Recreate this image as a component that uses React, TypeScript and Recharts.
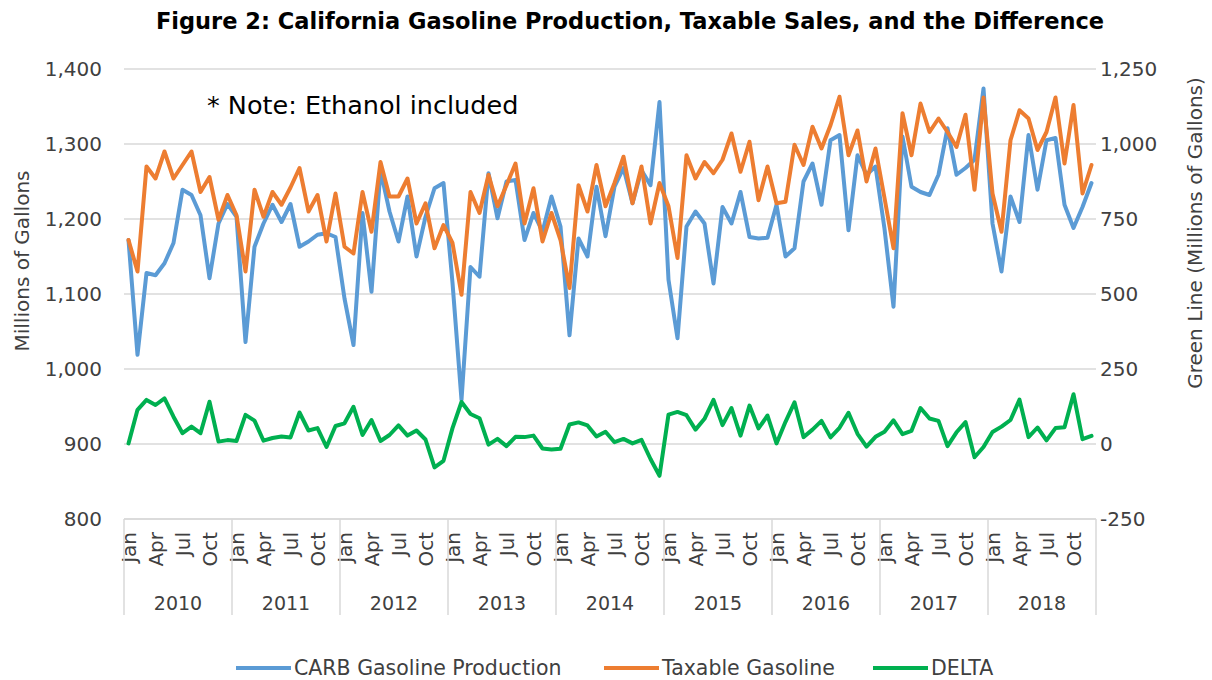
import React from 'react';
import { LineChart, Line, XAxis, YAxis, CartesianGrid, Legend, Label } from 'recharts';

const years = [2010, 2011, 2012, 2013, 2014, 2015, 2016, 2017, 2018];
const months = ['Jan', 'Feb', 'Mar', 'Apr', 'May', 'Jun', 'Jul', 'Aug', 'Sep', 'Oct', 'Nov', 'Dec'];
const monthTickLabels = ['Jan', 'Apr', 'Jul', 'Oct'];

const leftTicks = [800, 900, 1000, 1100, 1200, 1300, 1400];
const rightTicks = [-250, 0, 250, 500, 750, 1000, 1250];

const seriesNames = ['CARB Gasoline Production', 'Taxable Gasoline', 'DELTA'];
const seriesColors = ['#5B9BD5', '#ED7D31', '#00B050'];
const legendLeft = [236, 604, 873];

const carbProduction = [
  1172, 1019, 1128, 1125, 1141, 1168, 1239, 1232, 1205, 1121, 1194, 1220,
  1203, 1036, 1163, 1194, 1219, 1196, 1220, 1163, 1170, 1179, 1181, 1176,
  1094, 1032, 1208, 1103, 1265, 1210, 1170, 1230, 1150, 1203, 1241, 1248,
  1115, 959, 1136, 1123, 1261, 1201, 1250, 1252, 1172, 1208, 1183, 1230,
  1190, 1045, 1174, 1150, 1243, 1177, 1243, 1268, 1221, 1265, 1245, 1356,
  1119, 1041, 1190, 1210, 1194, 1114, 1216, 1194, 1236, 1176, 1174, 1175,
  1219, 1150, 1161, 1250, 1274, 1219, 1305, 1312, 1185, 1285, 1259, 1270,
  1187, 1083, 1310, 1243, 1236, 1232, 1259, 1321, 1259, 1268, 1279, 1374,
  1194, 1130, 1230, 1196, 1312, 1239, 1305, 1308, 1219, 1188, 1216, 1248,
];

const taxableGasoline = [
  1172, 1130, 1270, 1254, 1290, 1254, 1272, 1290, 1236, 1256, 1199, 1232,
  1205, 1130, 1239, 1203, 1236, 1219, 1242, 1268, 1210, 1232, 1170, 1234,
  1163, 1154, 1236, 1183, 1276, 1230, 1230, 1254, 1194, 1221, 1161, 1192,
  1168, 1099, 1236, 1208, 1259, 1217, 1245, 1274, 1194, 1241, 1170, 1208,
  1172, 1108, 1245, 1210, 1272, 1217, 1248, 1283, 1221, 1270, 1194, 1248,
  1217, 1148, 1285, 1254, 1276, 1261, 1279, 1314, 1263, 1303, 1225, 1270,
  1221, 1223, 1299, 1272, 1323, 1294, 1325, 1363, 1285, 1318, 1250, 1294,
  1228, 1161, 1341, 1285, 1354, 1316, 1334, 1316, 1296, 1339, 1239, 1362,
  1234, 1183, 1305, 1345, 1334, 1292, 1316, 1362, 1274, 1352, 1234, 1272,
];

const deltaValues = [
  2, 114, 147, 130, 152, 91, 36, 58, 36, 141, 8, 13,
  10, 97, 78, 11, 20, 25, 22, 105, 45, 53, -10, 60,
  69, 124, 30, 80, 10, 30, 62, 28, 45, 15, -78, -56,
  53, 140, 100, 86, -2, 17, -7, 24, 23, 28, -15, -18,
  -16, 65, 72, 62, 25, 41, 6, 17, 2, 14, -50, -106,
  98, 107, 96, 48, 84, 147, 63, 120, 28, 128, 52, 95,
  2, 74, 139, 23, 48, 77, 22, 54, 104, 34, -9, 24,
  41, 79, 33, 44, 120, 85, 77, -7, 39, 73, -44, -10,
  40, 58, 80, 148, 23, 55, 12, 53, 56, 166, 16, 27,
];

const data = carbProduction.map((v, i) => ({
  key: `${years[Math.floor(i / 12)]}-${months[i % 12]}`,
  month: months[i % 12],
  year: years[Math.floor(i / 12)],
  carb: v,
  taxable: taxableGasoline[i],
  delta: deltaValues[i],
}));

const FONT = "'DejaVu Sans', sans-serif";
const TEXT = '#404040';
const GRID = '#d9d9d9';
const W = 1212;
const H = 680;
const LEFT_W = 124;
const RIGHT_W = 116;
const PLOT_W = W - LEFT_W - RIGHT_W;
const HALF = PLOT_W / data.length / 2;
const LINE_W = 4;

const fmt = (v: number) => v.toLocaleString('en-US');

const MonthTick = (props: any) => {
  const { x, y, index } = props;
  const item = data[index];
  if (!item) return null;
  const m = index % 12;
  const out: any[] = [];
  if (monthTickLabels.includes(item.month)) {
    const bx = x + 7;
    const by = y + 13;
    out.push(
      <text key="m" x={bx} y={by} transform={`rotate(-90, ${bx}, ${by})`} textAnchor="end"
        fontSize={20} fontFamily={FONT} fill={TEXT}>{item.month}</text>
    );
  }
  if (m === 0) {
    out.push(<line key="d" x1={x - HALF} x2={x - HALF} y1={y} y2={y + 96} stroke={GRID} strokeWidth={1.5} />);
  }
  if (index === data.length - 1) {
    out.push(<line key="e" x1={x + HALF} x2={x + HALF} y1={y} y2={y + 96} stroke={GRID} strokeWidth={1.5} />);
  }
  if (m === 6) {
    out.push(
      <text key="y" x={x - HALF} y={y + 91} textAnchor="middle" fontSize={19} fontFamily={FONT} fill={TEXT}>{item.year}</text>
    );
  }
  return <g>{out}</g>;
};

const renderLegend = () => (
  <div style={{ position: 'relative', height: 26, fontFamily: FONT, fontSize: 20.5, color: TEXT }}>
    {seriesNames.map((name, i) => (
      <div key={name} style={{ position: 'absolute', left: legendLeft[i], top: 0, height: 26, display: 'flex', alignItems: 'center' }}>
        <svg width={55} height={8}><line x1={0} x2={55} y1={4} y2={4} stroke={seriesColors[i]} strokeWidth={4} /></svg>
        <span style={{ marginLeft: 3, whiteSpace: 'nowrap' }}>{name}</span>
      </div>
    ))}
  </div>
);

const LeftTitle = (props: any) => {
  const vb = props.viewBox || { x: 0 };
  const cx = vb.x + 22;
  const cy = 261;
  return (
    <text x={cx} y={cy} transform={`rotate(-90, ${cx}, ${cy})`} textAnchor="middle" dominantBaseline="central"
      fontSize={20} fontFamily={FONT} fill={TEXT}>Millions of Gallons</text>
  );
};

const RightTitle = (props: any) => {
  const vb = props.viewBox || { x: W - RIGHT_W };
  const cx = vb.x + 99;
  const cy = 233;
  return (
    <text x={cx} y={cy} transform={`rotate(-90, ${cx}, ${cy})`} textAnchor="middle" dominantBaseline="central"
      fontSize={20} fontFamily={FONT} fill={TEXT}>Green Line (Millions of Gallons)</text>
  );
};

export default function App() {
  return (
    <div style={{ position: 'absolute', left: 0, top: 0, width: W, height: H, background: '#fff', fontFamily: FONT }}>
      <div style={{ position: 'absolute', left: 30, top: 7, width: 1200, textAlign: 'center', fontSize: 22.5, fontWeight: 'bold', color: '#000', lineHeight: '28px', fontFamily: FONT }}>
        Figure 2: California Gasoline Production, Taxable Sales, and the Difference
      </div>
      <LineChart width={W} height={H} data={data} margin={{ top: 69, right: 0, bottom: 0, left: 0 }}>
        <CartesianGrid yAxisId="left" vertical={false} stroke={GRID} strokeWidth={1.5} />
        <XAxis dataKey="key" interval={0} height={161} tickSize={0} tickMargin={0} tickLine={false}
          axisLine={{ stroke: GRID, strokeWidth: 1.5 }} padding={{ left: HALF, right: HALF }} tick={<MonthTick />} />
        <YAxis yAxisId="left" orientation="left" width={LEFT_W} domain={[800, 1400]} ticks={leftTicks}
          tickFormatter={fmt} axisLine={false} tickLine={false} tickSize={0} tickMargin={22}
          tick={{ fontSize: 20, fontFamily: FONT, fill: TEXT }} allowDataOverflow>
          <Label content={<LeftTitle />} />
        </YAxis>
        <YAxis yAxisId="right" orientation="right" width={RIGHT_W} domain={[-250, 1250]} ticks={rightTicks}
          tickFormatter={fmt} axisLine={false} tickLine={false} tickSize={0} tickMargin={4}
          tick={{ fontSize: 20, fontFamily: FONT, fill: TEXT }} allowDataOverflow>
          <Label content={<RightTitle />} />
        </YAxis>
        <Legend verticalAlign="middle" align="center" layout="horizontal"
          wrapperStyle={{ top: 655, left: 0, width: W, height: 26 }} content={renderLegend} />
        <Line yAxisId="left" type="linear" dataKey="carb" name={seriesNames[0]} stroke={seriesColors[0]}
          strokeWidth={LINE_W} dot={false} isAnimationActive={false} strokeLinejoin="round" strokeLinecap="round" />
        <Line yAxisId="left" type="linear" dataKey="taxable" name={seriesNames[1]} stroke={seriesColors[1]}
          strokeWidth={LINE_W} dot={false} isAnimationActive={false} strokeLinejoin="round" strokeLinecap="round" />
        <Line yAxisId="right" type="linear" dataKey="delta" name={seriesNames[2]} stroke={seriesColors[2]}
          strokeWidth={LINE_W} dot={false} isAnimationActive={false} strokeLinejoin="round" strokeLinecap="round" />
      </LineChart>
      <div style={{ position: 'absolute', left: 207, top: 90, fontSize: 25.5, lineHeight: '30px', color: '#000', fontFamily: FONT, whiteSpace: 'nowrap' }}>
        * Note: Ethanol included
      </div>
    </div>
  );
}
